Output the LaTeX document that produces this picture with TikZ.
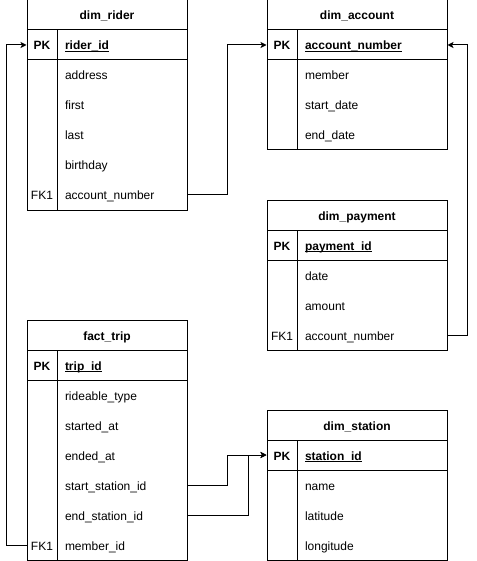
\documentclass[tikz,border=0pt]{standalone}
\usepackage{fontspec}
\setmainfont{Liberation Sans}
\usetikzlibrary{arrows.meta}

\newcommand{\keyname}[1]{\underline{\smash{\textbf{#1}}}}

\begin{document}
\begin{tikzpicture}[x=1pt,y=-1pt,line width=1pt,
        font=\fontsize{12}{14}\selectfont,
        title/.style={draw,minimum width=160pt,minimum height=30pt,inner sep=0pt,
          font=\fontsize{12}{14}\selectfont\bfseries,text height=10pt,text depth=0pt},
        keycell/.style={minimum width=30pt,minimum height=30pt,inner sep=0pt,text height=10pt,text depth=0pt},
        field/.style={minimum height=30pt,text width=114pt,inner xsep=8pt,inner ysep=0pt,
          align=left,text height=10pt,text depth=0pt},
        fk/.style={-{Stealth[length=6pt,width=6pt,inset=1.5pt]}}]
  \useasboundingbox (0,0) rectangle (476,561);

  % dim_rider
  \node[title] (rider) at (107,15) {dim\_rider};
  \node[keycell,draw] (rider-pkk) at (42,45) {\textbf{PK}};
  \node[field,draw] (rider-pk) at (122,45) {\keyname{rider\_id}};
  \draw (27,60) rectangle (57,210) (57,60) rectangle (187,210);
  \foreach \t [count=\i] in {address,first,last,birthday,account\_number}
    \node[field] (rider-\i) at (122,45+30*\i) {\t};
  \node[keycell] (rider-fk) at (42,195) {FK1};

  % dim_account
  \node[title,minimum width=180pt] (acct) at (357,15) {dim\_account};
  \node[keycell,draw] (acct-pkk) at (282,45) {\textbf{PK}};
  \node[field,draw,text width=134pt] (acct-pk) at (372,45) {\keyname{account\_number}};
  \draw (267,60) rectangle (297,150) (297,60) rectangle (447,150);
  \foreach \t [count=\i] in {member,start\_date,end\_date}
    \node[field,text width=134pt] (acct-\i) at (372,45+30*\i) {\t};

  % dim_payment
  \node[title,minimum width=180pt] (pay) at (357,215) {dim\_payment};
  \node[keycell,draw] (pay-pkk) at (282,245) {\textbf{PK}};
  \node[field,draw,text width=134pt] (pay-pk) at (372,245) {\keyname{payment\_id}};
  \draw (267,260) rectangle (297,350) (297,260) rectangle (447,350);
  \foreach \t [count=\i] in {date,amount,account\_number}
    \node[field,text width=134pt] (pay-\i) at (372,245+30*\i) {\t};
  \node[keycell] (pay-fk) at (282,335) {FK1};

  % fact_trip
  \node[title] (trip) at (107,335) {fact\_trip};
  \node[keycell,draw] (trip-pkk) at (42,365) {\textbf{PK}};
  \node[field,draw] (trip-pk) at (122,365) {\keyname{trip\_id}};
  \draw (27,380) rectangle (57,560) (57,380) rectangle (187,560);
  \foreach \t [count=\i] in {rideable\_type,started\_at,ended\_at,start\_station\_id,end\_station\_id,member\_id}
    \node[field] (trip-\i) at (122,365+30*\i) {\t};
  \node[keycell] (trip-fk) at (42,545) {FK1};

  % dim_station
  \node[title,minimum width=180pt] (stn) at (357,425) {dim\_station};
  \node[keycell,draw] (stn-pkk) at (282,455) {\textbf{PK}};
  \node[field,draw,text width=134pt] (stn-pk) at (372,455) {\keyname{station\_id}};
  \draw (267,470) rectangle (297,560) (297,470) rectangle (447,560);
  \foreach \t [count=\i] in {name,latitude,longitude}
    \node[field,text width=134pt] (stn-\i) at (372,455+30*\i) {\t};

  % foreign keys
  \draw[fk] (rider-5.east) -- ++(40,0) |- (acct-pkk.west);
  \draw[fk] (pay-3.east) -- ++(20,0) |- (acct-pk.east);
  \draw[fk] (trip-fk.west) -- ++(-20,0) |- (rider-pkk.west);
  \draw[fk] (trip-4.east) -- ++(40,0) |- (stn-pkk.west);
  \draw[fk] (trip-5.east) -- ++(61,0) |- (stn-pkk.west);
\end{tikzpicture}
\end{document}
